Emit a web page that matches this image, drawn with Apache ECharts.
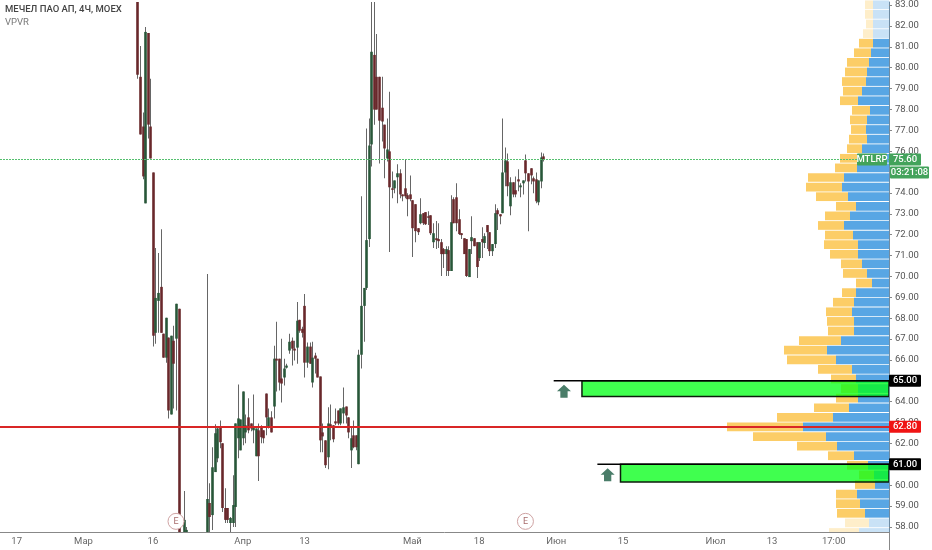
<!DOCTYPE html>
<html>
<head>
<meta charset="utf-8">
<style>
  html, body { margin: 0; padding: 0; background: #fff; }
  #chart { width: 932px; height: 550px; }
</style>
<script src="https://cdn.jsdelivr.net/npm/echarts@6/dist/echarts.min.js"></script>
</head>
<body>
<div id="chart"></div>
<script>
// open, close, low, high of each 4h bar, in order
const candles = [
  [84.09,79.66,79.47,84.57],[79.56,76.80,76.80,81.04],[77.18,74.79,74.65,77.85],[73.50,81.71,73.50,81.95],
  [81.66,77.27,76.61,81.66],[77.18,75.65,75.65,79.47],[74.98,67.16,66.64,74.98],[67.30,68.97,66.78,71.36],
  [68.83,69.21,67.30,71.12],[69.50,67.30,67.30,72.26],[67.26,66.11,66.11,67.26],[66.11,68.02,65.87,68.02],
  [67.07,63.58,63.20,67.07],[63.39,67.16,63.39,67.16],[66.92,65.82,63.68,67.64],[67.02,68.69,63.58,68.69],
  [68.45,56.90,56.43,68.45],[56.50,56.20,56.00,56.70],[57.14,58.34,56.90,59.72],[57.14,57.86,57.00,58.00],
  [56.40,55.90,55.70,56.60],[55.90,55.50,55.30,56.10],[55.50,55.70,55.20,56.00],[55.70,55.20,55.00,55.90],
  [55.20,55.60,55.00,55.90],[55.60,56.10,55.40,56.40],[56.10,56.60,55.90,56.90],[56.90,59.34,56.43,70.12],
  [59.15,58.48,57.38,60.10],[58.57,60.86,57.86,61.82],[60.63,62.49,60.63,62.92],[61.29,62.72,61.10,62.77],
  [62.77,62.06,61.77,63.10],[62.01,58.91,58.72,62.01],[58.91,58.34,58.19,59.86],[58.91,58.34,58.19,58.91],
  [58.19,58.43,57.38,58.48],[58.19,59.05,58.00,60.48],[58.96,62.96,58.00,62.96],[62.25,63.20,61.29,64.82],
  [61.67,63.15,61.67,63.15],[62.25,64.49,61.91,64.49],[62.53,62.87,62.01,63.39],[63.25,62.63,62.49,64.16],
  [62.96,62.72,62.58,62.96],[62.63,62.77,62.01,64.35],[61.39,62.72,61.39,62.72],[62.63,61.39,60.20,62.96],
  [62.77,62.30,62.01,62.87],[62.63,62.25,62.01,62.63],[64.39,63.25,62.39,64.39],[62.77,63.25,62.72,63.68],
  [63.25,62.53,62.53,63.54],[63.77,66.06,63.20,66.68],[66.06,65.97,64.49,67.83],[66.06,64.92,64.54,66.06],
  [65.11,64.87,63.96,67.02],[65.16,65.59,64.78,66.06],[65.63,65.73,65.59,65.82],[66.45,66.87,66.30,67.26],
  [66.92,66.54,65.73,67.07],[66.54,66.45,65.97,66.92],[66.59,67.88,65.82,68.78],[67.92,67.40,67.30,67.92],
  [67.49,67.30,67.07,67.59],[68.59,65.87,65.16,69.16],[65.87,66.64,65.63,66.83],[66.64,65.82,65.82,66.83],
  [64.92,66.11,64.68,66.87],[66.21,66.06,65.35,66.35],[66.06,65.16,65.16,66.06],[65.21,62.15,61.58,65.21],
  [62.53,62.34,61.58,62.96],[62.15,60.96,60.82,62.15],[61.34,62.96,60.77,63.73],[62.92,62.77,62.15,63.87],
  [62.87,62.20,62.06,62.87],[63.06,62.96,62.87,63.68],[63.58,62.96,62.87,63.58],[62.96,63.68,62.87,63.68],
  [63.44,63.73,62.96,64.68],[63.77,63.34,62.96,63.77],[63.25,62.53,62.25,63.25],[61.67,62.25,60.82,62.77],
  [62.39,61.82,61.77,63.10],[62.39,61.82,61.67,62.39],[61.01,66.25,61.01,66.49],[66.25,68.59,65.59,73.84],
  [68.59,69.45,66.87,69.45],[69.45,71.74,69.35,77.08],[71.79,76.27,71.41,77.56],[76.32,80.76,75.27,84.57],
  [80.61,77.99,77.27,83.62],[79.56,77.99,77.99,81.61],[79.56,77.46,75.41,79.56],[78.08,77.42,76.46,79.56],
  [77.27,76.13,74.70,77.27],[75.65,76.08,75.51,77.56],[75.99,74.27,71.17,78.85],[74.22,74.17,73.74,75.03],
  [74.22,74.60,73.98,74.60],[74.75,74.94,73.50,75.37],[74.94,73.93,73.74,75.13],[73.93,73.84,73.60,73.93],
  [74.22,73.84,73.74,75.60],[73.89,73.70,72.88,73.98],[73.93,73.70,73.60,74.84],[73.65,72.31,70.93,73.65],
  [73.46,72.17,71.64,73.46],[72.31,72.12,71.98,72.31],[72.55,72.98,72.50,73.74],[73.03,72.55,72.46,73.03],
  [73.08,72.50,72.46,73.08],[72.88,72.84,72.46,73.12],[72.93,72.07,71.98,72.93],[71.64,72.07,71.36,72.55],
  [71.83,71.74,71.31,72.65],[71.79,71.69,71.36,72.55],[71.64,71.07,70.02,71.79],[71.31,71.07,70.40,71.36],
  [71.07,71.31,70.02,71.45],[71.26,70.26,70.02,71.45],[70.26,72.60,70.26,73.89],[73.70,72.55,72.55,73.79],
  [73.79,72.55,72.17,74.46],[72.74,72.03,71.98,73.22],[72.07,71.98,71.79,72.07],[71.83,71.07,71.07,71.83],
  [71.79,70.02,69.97,71.79],[69.97,71.31,69.97,71.31],[71.69,71.88,71.07,72.88],[71.83,71.45,71.45,71.83],
  [71.64,70.45,69.93,71.64],[70.88,71.64,70.74,71.64],[71.79,71.64,70.88,72.36],[71.60,71.93,71.36,72.07],
  [72.46,72.12,71.31,72.46],[72.12,71.21,70.98,72.12],[71.21,71.55,70.98,71.55],[71.55,73.03,71.36,73.46],
  [73.17,72.98,72.22,73.27],[72.98,72.88,72.50,72.98],[73.03,74.98,73.03,77.56],[74.98,75.56,74.32,76.18],
  [75.51,74.32,73.84,75.89],[73.36,74.51,72.93,74.75],[74.51,73.93,73.79,74.51],[74.13,73.93,73.79,74.79],
  [74.65,74.55,74.08,75.13],[74.27,74.36,73.79,74.46],[74.46,74.60,73.93,74.60],[75.56,74.94,74.55,75.84],
  [74.94,74.55,72.17,74.94],[75.18,74.84,74.41,75.18],[74.70,74.55,73.98,74.79],[74.65,73.60,73.50,74.98],
  [73.55,74.60,73.41,74.60],[74.55,75.70,74.22,75.94],[75.75,75.60,75.51,75.89]
];
const firstCandle = 53;
const categoryCount = 346;

const xTickIndex = [6, 32, 59, 94, 118, 160, 186, 216, 242, 278, 300, 324];
const xTickLabels = ['17', 'Мар', '16', 'Апр', '13', 'Май', '18', 'Июн', '15', 'Июл', '13', '17:00'];
const yTicks = [58, 59, 60, 61, 62, 63, 64, 65, 66, 67, 68, 69, 70, 71, 72, 73, 74, 75, 76, 77, 78, 79, 80, 81, 82, 83];

// volume profile rows, top to bottom
const profileBlue = [16, 16, 16, 16, 16, 18, 20, 22, 23, 27, 31, 19, 22, 23, 22, 27, 32, 32, 45, 47, 41, 33, 39, 45, 36, 31, 31, 27, 22,
  17, 33, 35, 37, 35, 35, 48, 62, 53, 37, 33, 31, 31, 40, 56, 86, 63, 52, 35, 21, 15, 14, 32, 29, 24, 20, 30];
const profileOrange = [8, 8, 7, 10, 14, 17, 22, 22, 24, 19, 18, 18, 17, 15, 18, 15, 17, 22, 36, 36, 32, 20, 25, 26, 28, 34, 28, 21, 24,
  16, 14, 21, 26, 27, 26, 42, 43, 49, 34, 25, 17, 22, 35, 56, 76, 73, 40, 26, 21, 15, 20, 21, 24, 28, 24, 30];
const fadedRows = [0, 1, 2, 3, 54, 55];

const zoneStart = [226, 241];
const zoneLineStart = [215, 232];
const zoneTop = [65, 61];
const zoneBottom = [64.25, 60.15];

const arrowIndex = [219, 236];
const arrowPrice = [64.5, 60.5];
const earningsIndex = [68, 204];
const earningsPrice = 58.27;

const lastPrice = 75.6;
const linePrice = 62.8;
const tagPrices = [65, 61, 62.8, 75.6];
const tagTexts = ['65.00', '61.00', '62.80', '75.60'];
const tagColors = ['#000', '#000', '#f01414', '#43a35b'];
const symbolTag = 'MTLRP';
const countdownTag = '03:21:08';

const font = 'Roboto, sans-serif';
const categories = new Array(categoryCount).fill('');
xTickIndex.forEach((idx, k) => { categories[idx] = xTickLabels[k]; });

function isTick(index) {
  return xTickIndex.indexOf(index) >= 0;
}

function renderCandle(params, api) {
  const i = api.value(0);
  const open = api.value(1);
  const close = api.value(2);
  const x = Math.round(api.coord([i, open])[0]);
  const yOpen = api.coord([i, open])[1];
  const yClose = api.coord([i, close])[1];
  const yLow = api.coord([i, api.value(3)])[1];
  const yHigh = api.coord([i, api.value(4)])[1];
  const top = Math.min(yOpen, yClose);
  return {
    type: 'group',
    children: [
      { type: 'rect', shape: { x: x, y: yHigh, width: 1, height: yLow - yHigh }, style: { fill: '#666' } },
      {
        type: 'rect',
        shape: { x: x - 0.8, y: top, width: 2.6, height: Math.max(Math.abs(yOpen - yClose), 1.5) },
        style: { fill: close >= open ? '#285739' : '#69282b' }
      }
    ]
  };
}

function renderZone(params, api) {
  const right = params.coordSys.x + params.coordSys.width;
  const start = api.coord([api.value(0), api.value(2)]);
  const lineX = api.coord([api.value(1), api.value(2)])[0];
  const bottom = api.coord([api.value(0), api.value(3)])[1];
  return {
    type: 'group',
    children: [
      {
        type: 'rect',
        shape: { x: start[0], y: start[1], width: right - start[0], height: bottom - start[1] },
        style: { fill: 'rgba(0,255,20,0.75)', stroke: '#0c1c0c', lineWidth: 1.5 }
      },
      {
        type: 'line',
        shape: { x1: lineX, y1: start[1], x2: right, y2: start[1] },
        style: { stroke: '#000', lineWidth: 1.5 }
      }
    ]
  };
}

function tagBox(x, y, w, h, color, text) {
  return [
    { type: 'rect', shape: { x: x, y: y - h / 2, width: w, height: h, r: 1 }, style: { fill: color } },
    {
      type: 'text',
      style: {
        x: x + w / 2, y: y, text: text, fill: '#fff', font: '500 9.5px ' + font,
        align: 'center', verticalAlign: 'middle'
      }
    }
  ];
}

function renderTag(params, api) {
  const i = params.dataIndex;
  const price = api.value(1);
  const y = api.coord([0, price])[1];
  const right = params.coordSys.x + params.coordSys.width;
  let children = tagBox(right, y, 32, 12, tagColors[i], tagTexts[i]);
  if (price === lastPrice) {
    children = children
      .concat(tagBox(right - 32, y, 30, 12, tagColors[i], symbolTag))
      .concat(tagBox(right + 1, y + 13, 39, 12, tagColors[i], countdownTag));
  }
  return { type: 'group', children: children };
}

const option = {
  animation: false,
  backgroundColor: '#fff',
  title: {
    left: 5,
    top: 5,
    padding: 0,
    text: 'МЕЧЕЛ ПАО АП, 4Ч, MOEX',
    subtext: 'VPVR',
    itemGap: 3,
    textStyle: { fontFamily: font, fontSize: 9.5, fontWeight: 500, color: '#444' },
    subtextStyle: { fontFamily: font, fontSize: 9.5, color: '#777' }
  },
  grid: [
    { left: 0, right: 43, top: 0, bottom: 18 },
    { left: 689, width: 200, top: -2.56, height: 539.84 }
  ],
  xAxis: [
    {
      type: 'category',
      gridIndex: 0,
      data: categories,
      z: 4,
      axisLine: { lineStyle: { color: '#888', width: 1 } },
      axisTick: { alignWithLabel: true, length: 3, interval: isTick, lineStyle: { color: '#888' } },
      axisLabel: { interval: isTick, color: '#666', fontFamily: font, fontSize: 9.5, margin: 5 },
      splitLine: { show: false }
    },
    { type: 'value', gridIndex: 1, inverse: true, min: 0, max: 200, show: false }
  ],
  yAxis: [
    {
      type: 'value',
      gridIndex: 0,
      position: 'right',
      min: 57.76,
      max: 83.143,
      axisLine: { show: true, lineStyle: { color: '#6f8ca3', width: 1 } },
      axisTick: { show: true, length: 3, customValues: yTicks, lineStyle: { color: '#888' } },
      axisLabel: {
        customValues: yTicks,
        color: '#555',
        fontFamily: font,
        fontSize: 9.5,
        margin: 6,
        formatter: v => v.toFixed(2)
      },
      splitLine: { show: false }
    },
    {
      type: 'category',
      gridIndex: 1,
      inverse: true,
      show: false,
      data: profileBlue.map((v, i) => i)
    }
  ],
  graphic: [
    { type: 'rect', z: 3, shape: { x: 680, y: 533, width: 209, height: 17 }, style: { fill: '#fff' } },
    { type: 'line', z: 5, shape: { x1: 889.5, y1: 532, x2: 889.5, y2: 550 }, style: { stroke: '#888', lineWidth: 1 } }
  ],
  series: [
    {
      name: 'blue',
      type: 'bar',
      xAxisIndex: 1,
      yAxisIndex: 1,
      stack: 'vol',
      z: 2,
      barCategoryGap: '9%',
      itemStyle: { color: '#58a6e4' },
      data: profileBlue.map((v, i) => fadedRows.includes(i) ? { value: v, itemStyle: { opacity: 0.32 } } : v)
    },
    {
      name: 'orange',
      type: 'bar',
      xAxisIndex: 1,
      yAxisIndex: 1,
      stack: 'vol',
      z: 2,
      barCategoryGap: '9%',
      itemStyle: { color: '#fccd67' },
      data: profileOrange.map((v, i) => fadedRows.includes(i) ? { value: v, itemStyle: { opacity: 0.35 } } : v)
    },
    {
      name: 'candles',
      type: 'custom',
      xAxisIndex: 0,
      yAxisIndex: 0,
      z: 4,
      clip: true,
      renderItem: renderCandle,
      encode: { x: 0, y: [1, 2, 3, 4] },
      data: candles.map((c, k) => [firstCandle + k].concat(c)),
      markLine: {
        silent: true,
        symbol: 'none',
        label: { show: false },
        lineStyle: { color: '#55c06f', type: [2, 1], width: 1 },
        data: [{ yAxis: lastPrice }]
      }
    },
    {
      name: 'zones',
      type: 'custom',
      xAxisIndex: 0,
      yAxisIndex: 0,
      z: 5,
      clip: true,
      renderItem: renderZone,
      data: zoneStart.map((s, i) => [s, zoneLineStart[i], zoneTop[i], zoneBottom[i]]),
      markLine: {
        silent: true,
        symbol: 'none',
        label: { show: false },
        lineStyle: { color: '#d92626', type: 'solid', width: 2 },
        data: [{ yAxis: linePrice }]
      }
    },
    {
      name: 'arrows',
      type: 'scatter',
      xAxisIndex: 0,
      yAxisIndex: 0,
      z: 6,
      symbol: 'path://M5 0 L10 5.5 L7.6 5.5 L7.6 11 L2.4 11 L2.4 5.5 L0 5.5 Z',
      symbolSize: [14, 13],
      itemStyle: { color: '#4a7d69', opacity: 1 },
      data: arrowIndex.map((x, i) => [x, arrowPrice[i]])
    },
    {
      name: 'earnings',
      type: 'scatter',
      xAxisIndex: 0,
      yAxisIndex: 0,
      z: 6,
      symbol: 'circle',
      symbolSize: 16,
      itemStyle: { color: '#fff', borderColor: '#cfa3a3', borderWidth: 1, opacity: 1 },
      label: { show: true, position: 'inside', formatter: 'E', color: '#a86c6c', fontFamily: font, fontSize: 9 },
      data: earningsIndex.map(x => [x, earningsPrice])
    },
    {
      name: 'tags',
      type: 'custom',
      xAxisIndex: 0,
      yAxisIndex: 0,
      z: 8,
      clip: false,
      renderItem: renderTag,
      data: tagPrices.map(p => [0, p])
    }
  ]
};

const chart = echarts.init(document.getElementById('chart'));
chart.setOption(option);
</script>
</body>
</html>
